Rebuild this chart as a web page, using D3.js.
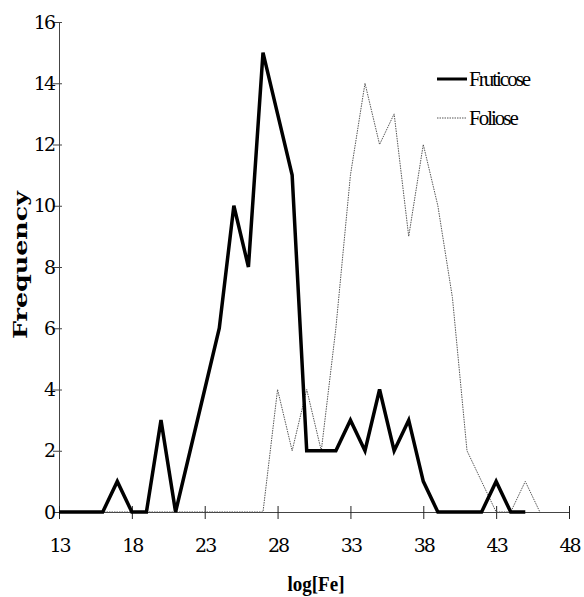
<!DOCTYPE html>
<html>
<head>
<meta charset="utf-8">
<script src="https://cdn.jsdelivr.net/npm/d3@7"></script>
<style>
  body { margin: 0; background: #fff; }
  text { font-family: "Liberation Serif", "DejaVu Serif", serif; fill: #000; }
</style>
</head>
<body>
<svg></svg>
<script>
var width = 584;
var height = 597;

// bins of log[Fe]
var fruticoseX = d3.range(13, 46);
var fruticose = [0, 0, 0, 0, 1, 0, 0, 3, 0, 2, 4, 6, 10, 8, 15, 13, 11,
                 2, 2, 2, 3, 2, 4, 2, 3, 1, 0, 0, 0, 0, 1, 0, 0];
var folioseX = d3.range(13, 47);
var foliose = [0, 0, 0, 0, 0, 0, 0, 0, 0, 0, 0, 0, 0, 0, 0, 4, 2, 4, 2,
               6, 11, 14, 12, 13, 9, 12, 10, 7, 2, 1, 0, 0, 1, 0];
var xTicks = [13, 18, 23, 28, 33, 38, 43, 48];
var yTicks = [0, 2, 4, 6, 8, 10, 12, 14, 16];

var xScale = d3.scaleLinear().domain([13, 48]).range([59, 569]);
var yScale = d3.scaleLinear().domain([0, 16]).range([512, 22]);

var svg = d3.select("svg")
            .attr("width", width)
            .attr("height", height);

// y axis
var yAxis = svg.append("g")
    .attr("transform", "translate(59, 0)")
    .call(d3.axisLeft(yScale).tickValues(yTicks).tickSize(6).tickPadding(2));
yAxis.select(".domain").attr("stroke", "#444");
yAxis.selectAll(".tick line").attr("x2", 3).attr("x1", -6).attr("stroke", "#444");
yAxis.selectAll(".tick text")
    .style("font-family", "'DejaVu Serif', serif")
    .style("font-size", "19px")
    .attr("letter-spacing", "-2px")
    .attr("x", -5);

// x axis
var xAxis = svg.append("g")
    .attr("transform", "translate(0, 512)")
    .call(d3.axisBottom(xScale).tickValues(xTicks).tickSize(7).tickPadding(20));
xAxis.select(".domain").attr("stroke", "#444");
xAxis.selectAll(".tick line").attr("y1", -6).attr("stroke", "#222");
xAxis.selectAll(".tick text")
    .style("font-family", "'DejaVu Serif', serif")
    .style("font-size", "19px")
    .attr("letter-spacing", "-2px");

// axis titles
svg.append("text")
    .attr("x", 316)
    .attr("y", 591)
    .style("text-anchor", "middle")
    .style("font-size", "20px")
    .style("font-weight", "bold")
    .attr("textLength", 57)
    .attr("lengthAdjust", "spacingAndGlyphs")
    .text("log[Fe]");

svg.append("text")
    .attr("transform", "rotate(-90)")
    .attr("x", -265)
    .attr("y", 27)
    .style("text-anchor", "middle")
    .style("font-family", "'DejaVu Serif', serif")
    .style("font-size", "18px")
    .style("font-weight", "bold")
    .attr("textLength", 148)
    .attr("lengthAdjust", "spacingAndGlyphs")
    .text("Frequency");

var line = d3.line()
    .x(d => xScale(d[0]))
    .y(d => yScale(d[1]));

svg.append("path")
    .datum(d3.zip(folioseX, foliose))
    .attr("fill", "none")
    .attr("stroke", "#555")
    .attr("stroke-width", 1)
    .attr("stroke-dasharray", "1.5,1")
    .attr("d", line);

svg.append("path")
    .datum(d3.zip(fruticoseX, fruticose))
    .attr("fill", "none")
    .attr("stroke", "#000")
    .attr("stroke-width", 3.5)
    .attr("stroke-linejoin", "miter")
    .attr("d", line);

// legend
var legend = [
  { name: "Fruticose", color: "#000", w: 3, dash: null, y: 79 },
  { name: "Foliose", color: "#555", w: 1, dash: "1.5,1", y: 118 }
];
var lg = svg.selectAll(".legend")
    .data(legend)
    .enter()
    .append("g")
    .attr("transform", d => "translate(437," + d.y + ")");
lg.append("line")
    .attr("x1", 0).attr("x2", 30)
    .attr("stroke", d => d.color)
    .attr("stroke-width", d => d.w)
    .attr("stroke-dasharray", d => d.dash);
lg.append("text")
    .attr("x", 32)
    .attr("y", 7)
    .style("font-size", "21px")
    .attr("letter-spacing", "-2px")
    .text(d => d.name);
</script>
</body>
</html>
